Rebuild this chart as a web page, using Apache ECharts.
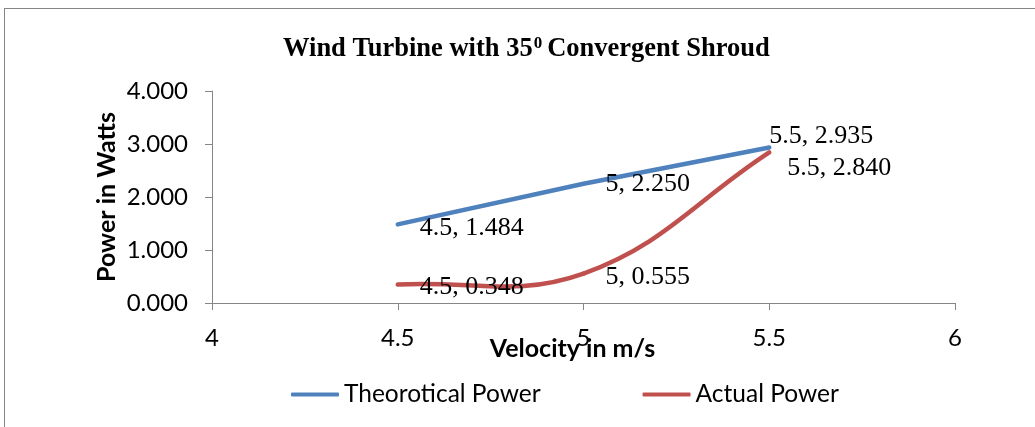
<!DOCTYPE html>
<html lang="en">
<head>
  <meta charset="utf-8">
  <title>Wind Turbine with 35 Convergent Shroud</title>
  <script src="https://cdn.jsdelivr.net/npm/echarts@6/dist/echarts.min.js"></script>
  <style>
    body { margin: 0; background: white; overflow: hidden; }
    #frame {
      position: absolute; left: 4px; top: 8px; width: 1100px; height: 500px;
      border: 1px solid #868686; box-sizing: border-box;
    }
    #chart { position: absolute; left: 0; top: 0; width: 1035px; height: 427px; }
  </style>
</head>
<body>
  <div id="frame"></div>
  <div id="chart"></div>
  <script>
    // --- Data.
    const VELOCITY = [4.5, 5, 5.5];
    const THEORETICAL = [1.484, 2.250, 2.935];
    const ACTUAL = [0.348, 0.555, 2.840];
    const X_TICKS = [4, 4.5, 5, 5.5, 6];

    // Label nudges so the texts sit where the original ones do.
    const THEO_OFFSETS = [[0, 4], [0, 0], [-22, -11]];
    const ACT_OFFSETS = [[0, 3], [0, 4], [-4, 16]];

    const AXIS_GRAY = '#868686';
    const BLUE = '#4F81BD';
    const RED = '#C0504D';
    const LABEL_FONT = 'Liberation Serif';
    const UI_FONT = 'Lato';

    // Tension of the spreadsheet-like smoothed curve.
    const SMOOTH_K = 0.2;

    function pairs(xs, ys, offsets) {
      return xs.map((x, i) => ({
        value: [x, ys[i]],
        label: { offset: offsets[i] }
      }));
    }

    function dist(a, b) {
      return Math.hypot(b[0] - a[0], b[1] - a[1]);
    }

    // Draws one bezier piece of the smoothed line, between point i and i + 1.
    // Ends get a mirrored phantom point, tangent arms are weighted by the
    // lengths of the neighbouring segments, like the office charts do.
    function smoothSegment(xs, ys, color) {
      return (params, api) => {
        const n = xs.length;
        const i = params.dataIndex;
        if (i >= n - 1) return null;
        const p = xs.map((x, j) => api.coord([x, ys[j]]));
        const prev = i > 0 ? p[i - 1] : [2 * p[0][0] - p[1][0], 2 * p[0][1] - p[1][1]];
        const next = i + 2 < n ? p[i + 2] : [2 * p[n - 1][0] - p[n - 2][0], 2 * p[n - 1][1] - p[n - 2][1]];
        const a = p[i], b = p[i + 1];
        const seg = dist(a, b);
        const wa = 2 * seg / (dist(prev, a) + seg);
        const wb = 2 * seg / (seg + dist(b, next));
        return {
          type: 'bezierCurve',
          shape: {
            x1: a[0], y1: a[1], x2: b[0], y2: b[1],
            cpx1: a[0] + (b[0] - prev[0]) * SMOOTH_K * wa,
            cpy1: a[1] + (b[1] - prev[1]) * SMOOTH_K * wa,
            cpx2: b[0] - (next[0] - a[0]) * SMOOTH_K * wb,
            cpy2: b[1] - (next[1] - a[1]) * SMOOTH_K * wb
          },
          style: { stroke: color, lineWidth: 4.5, fill: 'none', lineCap: 'round' }
        };
      };
    }

    const pointLabel = {
      show: true,
      position: 'right',
      distance: 22,
      fontFamily: LABEL_FONT,
      fontSize: 26,
      color: '#000',
      formatter: p => p.value[0] + ', ' + p.value[1].toFixed(3)
    };

    const chart = echarts.init(document.getElementById('chart'));
    chart.setOption({
      animation: false,
      title: {
        text: 'Wind Turbine with 35{sup|0}Convergent Shroud',
        left: 278,
        top: 30,
        textStyle: {
          fontFamily: LABEL_FONT, fontSize: 26.5, fontWeight: 'bold', color: '#000',
          rich: {
            sup: { fontFamily: LABEL_FONT, fontSize: 17, fontWeight: 'bold', verticalAlign: 'top', padding: [0, 5, 11, 1] }
          }
        }
      },
      legend: {
        bottom: 15,
        left: 286,
        itemGap: 102,
        itemWidth: 48,
        itemHeight: 4,
        icon: 'roundRect',
        textStyle: { fontFamily: UI_FONT, fontSize: 24.5, color: '#000' },
        data: ['Theorotical Power', 'Actual Power']
      },
      grid: { left: 212, right: 80, top: 91, bottom: 124 },
      xAxis: {
        type: 'value',
        min: 4, max: 6, interval: 0.5,
        name: 'Velocity in m/s',
        nameLocation: 'middle',
        nameGap: 33,
        nameMoveOverlap: false,
        nameTextStyle: { fontFamily: UI_FONT, fontSize: 25, fontWeight: 'bold', color: '#000', padding: [0, 0, 0, -22] },
        axisLine: { lineStyle: { color: AXIS_GRAY } },
        axisTick: { length: 7, lineStyle: { color: AXIS_GRAY } },
        splitLine: { show: false },
        axisLabel: {
          fontFamily: UI_FONT, fontSize: 24, color: '#000', margin: 23,
          formatter: v => X_TICKS.includes(v) ? String(v) : ''
        }
      },
      yAxis: {
        type: 'value',
        min: 0, max: 4, interval: 1,
        name: 'Power in Watts',
        nameLocation: 'middle',
        nameGap: 93,
        nameMoveOverlap: false,
        nameTextStyle: { fontFamily: UI_FONT, fontSize: 25, fontWeight: 'bold', color: '#000' },
        axisLine: { show: true, lineStyle: { color: AXIS_GRAY } },
        axisTick: { show: true, length: 7, lineStyle: { color: AXIS_GRAY } },
        splitLine: { show: false },
        axisLabel: {
          fontFamily: UI_FONT, fontSize: 24, color: '#000', margin: 24,
          formatter: v => v.toFixed(3)
        }
      },
      series: [
        {
          name: 'Theorotical Power',
          type: 'line',
          data: pairs(VELOCITY, THEORETICAL, THEO_OFFSETS),
          symbol: 'circle',
          symbolSize: 0.1,
          itemStyle: { color: BLUE },
          lineStyle: { width: 4.5, color: BLUE, cap: 'round' },
          label: pointLabel
        },
        {
          // Carries the legend entry and the point labels; the curve is drawn below.
          name: 'Actual Power',
          type: 'line',
          data: pairs(VELOCITY, ACTUAL, ACT_OFFSETS),
          symbol: 'circle',
          symbolSize: 0.1,
          itemStyle: { color: RED },
          lineStyle: { width: 0, opacity: 0 },
          label: pointLabel
        },
        {
          name: 'Actual Power curve',
          type: 'custom',
          coordinateSystem: 'cartesian2d',
          silent: true,
          z: 1,
          encode: { x: 0, y: 1 },
          data: VELOCITY.map((x, i) => [x, ACTUAL[i]]),
          renderItem: smoothSegment(VELOCITY, ACTUAL, RED)
        }
      ]
    });
  </script>
</body>
</html>
